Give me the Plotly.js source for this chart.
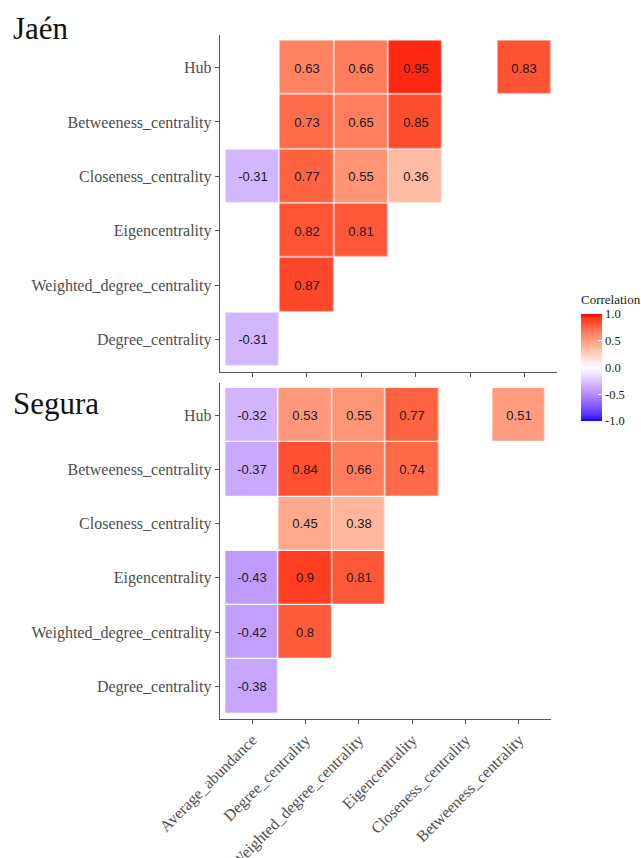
<!DOCTYPE html>
<html>
<head>
<meta charset="utf-8">
<script src="https://cdn.plot.ly/plotly-3.0.1.min.js"></script>
<style>html,body{margin:0;padding:0;background:#fff;}#chart{width:641px;height:858px;}</style>
</head>
<body>
<div id="chart"></div>
<script>
// ---- data ----
const columns = ['Average_abundance', 'Degree_centrality', 'Weighted_degree_centrality', 'Eigencentrality', 'Closeness_centrality', 'Betweeness_centrality'];
const rows = ['Hub', 'Betweeness_centrality', 'Closeness_centrality', 'Eigencentrality', 'Weighted_degree_centrality', 'Degree_centrality'];
const panelTitles = ['Jaén', 'Segura'];
const legendTitle = 'Correlation';
const jaenValues = [
  [null, 0.63, 0.66, 0.95, null, 0.83],
  [null, 0.73, 0.65, 0.85, null, null],
  [-0.31, 0.77, 0.55, 0.36, null, null],
  [null, 0.82, 0.81, null, null, null],
  [null, 0.87, null, null, null, null],
  [-0.31, null, null, null, null, null]
];
const seguraValues = [
  [-0.32, 0.53, 0.55, 0.77, null, 0.51],
  [-0.37, 0.84, 0.66, 0.74, null, null],
  [null, 0.45, 0.38, null, null, null],
  [-0.43, 0.9, 0.81, null, null, null],
  [-0.42, 0.8, null, null, null, null],
  [-0.38, null, null, null, null, null]
];
const legendTicks = [-1, -0.5, 0, 0.5, 1];
const legendTickText = ['-1.0', '-0.5', '0.0', '0.5', '1.0'];

// ---- Lab-space diverging colour scale (blue - white - red) ----
function lin(c){c/=255;return c<=0.04045?c/12.92:Math.pow((c+0.055)/1.055,2.4);}
function unlin(c){const v=c<=0.0031308?12.92*c:1.055*Math.pow(c,1/2.4)-0.055;return Math.max(0,Math.min(255,Math.round(v*255)));}
const WN=[0.95047,1,1.08883];
function toLab(rgb){const R=lin(rgb[0]),G=lin(rgb[1]),B=lin(rgb[2]);
  const X=(0.4124564*R+0.3575761*G+0.1804375*B)/WN[0];
  const Y=(0.2126729*R+0.7151522*G+0.0721750*B)/WN[1];
  const Z=(0.0193339*R+0.1191920*G+0.9503041*B)/WN[2];
  const f=t=>t>0.008856?Math.cbrt(t):7.787*t+16/116;
  const fx=f(X),fy=f(Y),fz=f(Z);
  return [116*fy-16,500*(fx-fy),200*(fy-fz)];}
function fromLab(lab){const fy=(lab[0]+16)/116,fx=fy+lab[1]/500,fz=fy-lab[2]/200;
  const fi=t=>{const t3=t*t*t;return t3>0.008856?t3:(t-16/116)/7.787;};
  const X=fi(fx)*WN[0],Y=fi(fy)*WN[1],Z=fi(fz)*WN[2];
  const R=3.2404542*X-1.5371385*Y-0.4985314*Z;
  const G=-0.9692660*X+1.8760108*Y+0.0415560*Z;
  const B=0.0556434*X-0.2040259*Y+1.0572252*Z;
  return 'rgb('+unlin(R)+','+unlin(G)+','+unlin(B)+')';}
const labBlue=toLab([0,0,255]),labWhite=toLab([255,255,255]),labRed=toLab([255,0,0]);
const colorscale=[];
const N=40;
for(let i=0;i<=N;i++){
  const v=-1+2*i/N;
  const a=v<0?labBlue:labRed;const t=Math.abs(v);
  const lab=[0,1,2].map(k=>labWhite[k]+(a[k]-labWhite[k])*t);
  colorscale.push([i/N,fromLab(lab)]);
}

function labels(vals){return vals.map(r=>r.map(v=>v===null?'':String(v)));}

const W=641,H=858;
const px=x=>x/W, py=y=>1-y/H;
const serif='Liberation Serif, Times New Roman, serif';
const tickFont={family:serif,size:16,color:'#4d4d4d'};
const cellFont={family:'Liberation Sans, Arial, sans-serif',size:13,color:'#1a1a1a'};

function hm(vals,xa,ya,showscale){
  return {type:'heatmap',x:columns,y:rows,z:vals,text:labels(vals),texttemplate:'%{text}',
    textfont:cellFont,xaxis:xa,yaxis:ya,zmin:-1,zmax:1,colorscale:colorscale,
    xgap:1.2,ygap:1.2,hoverongaps:false,showscale:showscale,
    colorbar:{x:px(581),xanchor:'left',xpad:0,y:py(367.5),yanchor:'middle',ypad:0,
      len:107,lenmode:'pixels',thickness:21,thicknessmode:'pixels',outlinewidth:0,
      tickvals:legendTicks,ticktext:legendTickText,ticks:'inside',ticklen:4,tickcolor:'#ffffff',
      tickfont:{family:serif,size:12.5,color:'#1a1a1a'},
      title:{text:''}}};
}
const axBase={type:'category',showline:true,linecolor:'#555',linewidth:1.3,ticks:'outside',ticklen:4,
  tickcolor:'#555',tickwidth:1,showgrid:false,zeroline:false,fixedrange:true,tickfont:tickFont};

const layout={width:W,height:H,margin:{l:0,r:0,t:0,b:0},paper_bgcolor:'#fff',plot_bgcolor:'#fff',
  showlegend:false,
  xaxis:Object.assign({},axBase,{domain:[px(220),px(557)],anchor:'y',range:[-0.6,5.6],showticklabels:false}),
  yaxis:Object.assign({},axBase,{domain:[py(372),py(35)],anchor:'x',range:[5.6,-0.6]}),
  xaxis2:Object.assign({},axBase,{domain:[px(220),px(551)],anchor:'y2',range:[-0.6,5.6],tickangle:-45}),
  yaxis2:Object.assign({},axBase,{domain:[py(719),py(382.5)],anchor:'x2',range:[5.6,-0.6]}),
  annotations:[
    {text:panelTitles[0],xref:'paper',yref:'paper',x:px(11),y:py(28),xanchor:'left',yanchor:'middle',showarrow:false,font:{family:serif,size:31,color:'#111'}},
    {text:panelTitles[1],xref:'paper',yref:'paper',x:px(11),y:py(403),xanchor:'left',yanchor:'middle',showarrow:false,font:{family:serif,size:31,color:'#111'}},
    {text:legendTitle,xref:'paper',yref:'paper',x:px(579),y:py(300),xanchor:'left',yanchor:'middle',showarrow:false,font:{family:serif,size:13,color:'#1a1a1a'}}
  ]};

Plotly.newPlot('chart',[hm(jaenValues,'x','y',true),hm(seguraValues,'x2','y2',false)],layout,{displayModeBar:false,staticPlot:true});
</script>
</body>
</html>
